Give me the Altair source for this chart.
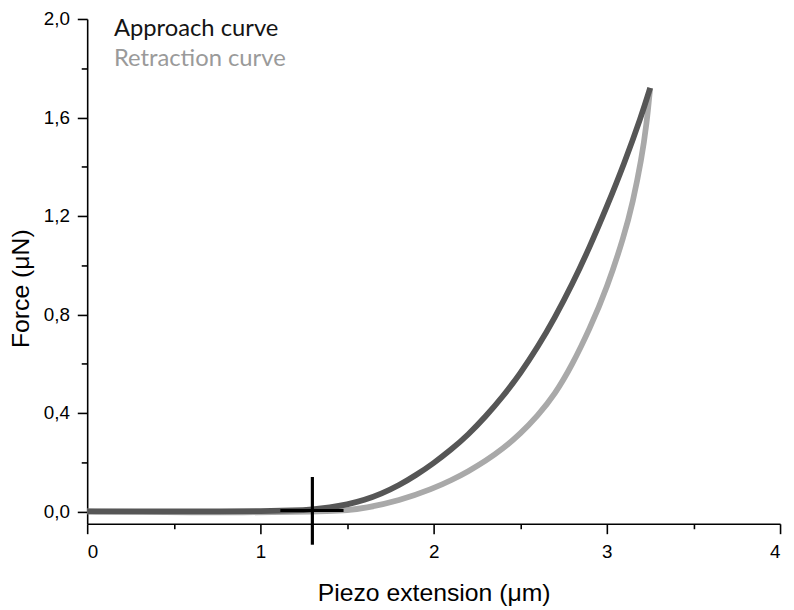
import altair as alt
import pandas as pd

# Approach curve (piezo extension in µm, force in µN)
approach_x = [0.0, 0.4, 0.8, 1.0, 1.2, 1.3, 1.4, 1.5, 1.6, 1.7, 1.8, 1.9, 2.0, 2.1, 2.2,
              2.3, 2.4, 2.5, 2.6, 2.7, 2.8, 2.9, 3.0, 3.1, 3.2, 3.25]
approach_y = [0.0, 0.0, 0.0, 0.001, 0.004, 0.008, 0.016, 0.028, 0.046, 0.072, 0.106, 0.148,
              0.196, 0.250, 0.312, 0.385, 0.467, 0.560, 0.666, 0.787, 0.922, 1.072, 1.237,
              1.412, 1.607, 1.720]

# Retraction curve
retract_x = [0.0, 0.3, 0.6, 0.9, 1.2, 1.4, 1.5, 1.6, 1.8, 2.0, 2.1, 2.2, 2.3, 2.4, 2.5, 2.6,
             2.7, 2.8, 2.9, 3.0, 3.1, 3.15, 3.2, 3.23, 3.25]
retract_y = [0.0, -0.002, -0.004, -0.004, -0.002, 0.002, 0.005, 0.013, 0.043, 0.094, 0.126,
             0.163, 0.205, 0.255, 0.315, 0.388, 0.475, 0.595, 0.740, 0.905, 1.120, 1.255,
             1.430, 1.575, 1.720]

# Contact point cross marker
cross_x = [1.30]
cross_y_range = [-0.135, 0.14]
cross_h_x_range = [1.115, 1.48]
cross_h_y = [0.004]

legend_labels = ["Approach curve", "Retraction curve"]
legend_colors = ["#141414", "#9a9a9a"]

x_ticks = [0, 0.5, 1, 1.5, 2, 2.5, 3, 3.5, 4]
y_ticks = [0, 0.2, 0.4, 0.6, 0.8, 1.0, 1.2, 1.4, 1.6, 1.8, 2.0]

df_a = pd.DataFrame({"x": approach_x, "y": approach_y})
df_r = pd.DataFrame({"x": retract_x, "y": retract_y})
df_v = pd.DataFrame({"x": cross_x, "y": [cross_y_range[0]], "y2": [cross_y_range[1]]})
df_h = pd.DataFrame({"x": [cross_h_x_range[0]], "x2": [cross_h_x_range[1]], "y": cross_h_y})
df_leg1 = pd.DataFrame({"label": [legend_labels[0]]})
df_leg2 = pd.DataFrame({"label": [legend_labels[1]]})

xscale = alt.Scale(domain=[0, 4], nice=False, zero=False)
yscale = alt.Scale(domain=[-0.05, 2.0], nice=False, zero=False)

xaxis = alt.Axis(
    values=x_ticks,
    labelExpr="datum.value % 1 == 0 ? format(datum.value, 'd') : ''",
    tickSize={"condition": {"test": "datum.value % 1 == 0", "value": 10}, "value": 5},
    labelPadding=9,
    labelFont="Liberation Sans",
    labelFontSize=19,
    title="Piezo extension (\u03bcm)",
    titleY=78,
    titleBaseline="alphabetic",
    grid=False,
)
yaxis = alt.Axis(
    values=y_ticks,
    labelExpr="round(datum.value*10) % 4 == 0 ? replace(format(datum.value, '.1f'), '.', ',') : ''",
    tickSize={"condition": {"test": "round(datum.value*10) % 4 == 0", "value": 10}, "value": 6},
    labelPadding=8,
    labelFont="Liberation Sans",
    labelFontSize=19,
    title="Force (\u03bcN)",
    titleX=-67,
    titleY=272,
    titleAngle=-90,
    titleBaseline="middle",
    grid=False,
)

approach = alt.Chart(df_a).mark_line(
    color="#565656", strokeWidth=5.8, interpolate="basis", strokeCap="butt"
).encode(
    x=alt.X("x:Q", scale=xscale, axis=xaxis),
    y=alt.Y("y:Q", scale=yscale, axis=yaxis),
    order="x:Q",
)

retract = alt.Chart(df_r).mark_line(
    color="#a9a9a9", strokeWidth=5.8, interpolate="basis", strokeCap="butt"
).encode(
    x=alt.X("x:Q", scale=xscale, axis=xaxis),
    y=alt.Y("y:Q", scale=yscale, axis=yaxis),
    order="x:Q",
)

vrule = alt.Chart(df_v).mark_rule(color="#000000", strokeWidth=3.2).encode(
    x=alt.X("x:Q", scale=xscale, axis=xaxis),
    y=alt.Y("y:Q", scale=yscale, axis=yaxis),
    y2="y2:Q",
)
hrule = alt.Chart(df_h).mark_rule(color="#000000", strokeWidth=3.2).encode(
    x=alt.X("x:Q", scale=xscale, axis=xaxis),
    x2="x2:Q",
    y=alt.Y("y:Q", scale=yscale, axis=yaxis),
)

leg1 = alt.Chart(df_leg1).mark_text(
    align="left", baseline="alphabetic", font="Lato", fontSize=24, color=legend_colors[0]
).encode(x=alt.value(27), y=alt.value(17), text="label:N")
leg2 = alt.Chart(df_leg2).mark_text(
    align="left", baseline="alphabetic", font="Lato", fontSize=24, color=legend_colors[1]
).encode(x=alt.value(27), y=alt.value(48), text="label:N")

chart = alt.layer(retract, approach, hrule, vrule, leg1, leg2).properties(
    width=700,
    height=510,
    padding={"left": 80, "top": 8, "right": 6, "bottom": 84},
    autosize=alt.AutoSizeParams(type="none"),
).configure_view(stroke=None).configure_axis(
    domainColor="#000000",
    domainWidth=1.6,
    tickColor="#000000",
    tickWidth=1.6,
    grid=False,
    labelColor="#000000",
    titleFont="Liberation Sans",
    titleFontSize=25,
    titleFontWeight="normal",
    titleColor="#000000",
)

chart.save("out.html", embed_options={"renderer": "svg", "actions": False})
